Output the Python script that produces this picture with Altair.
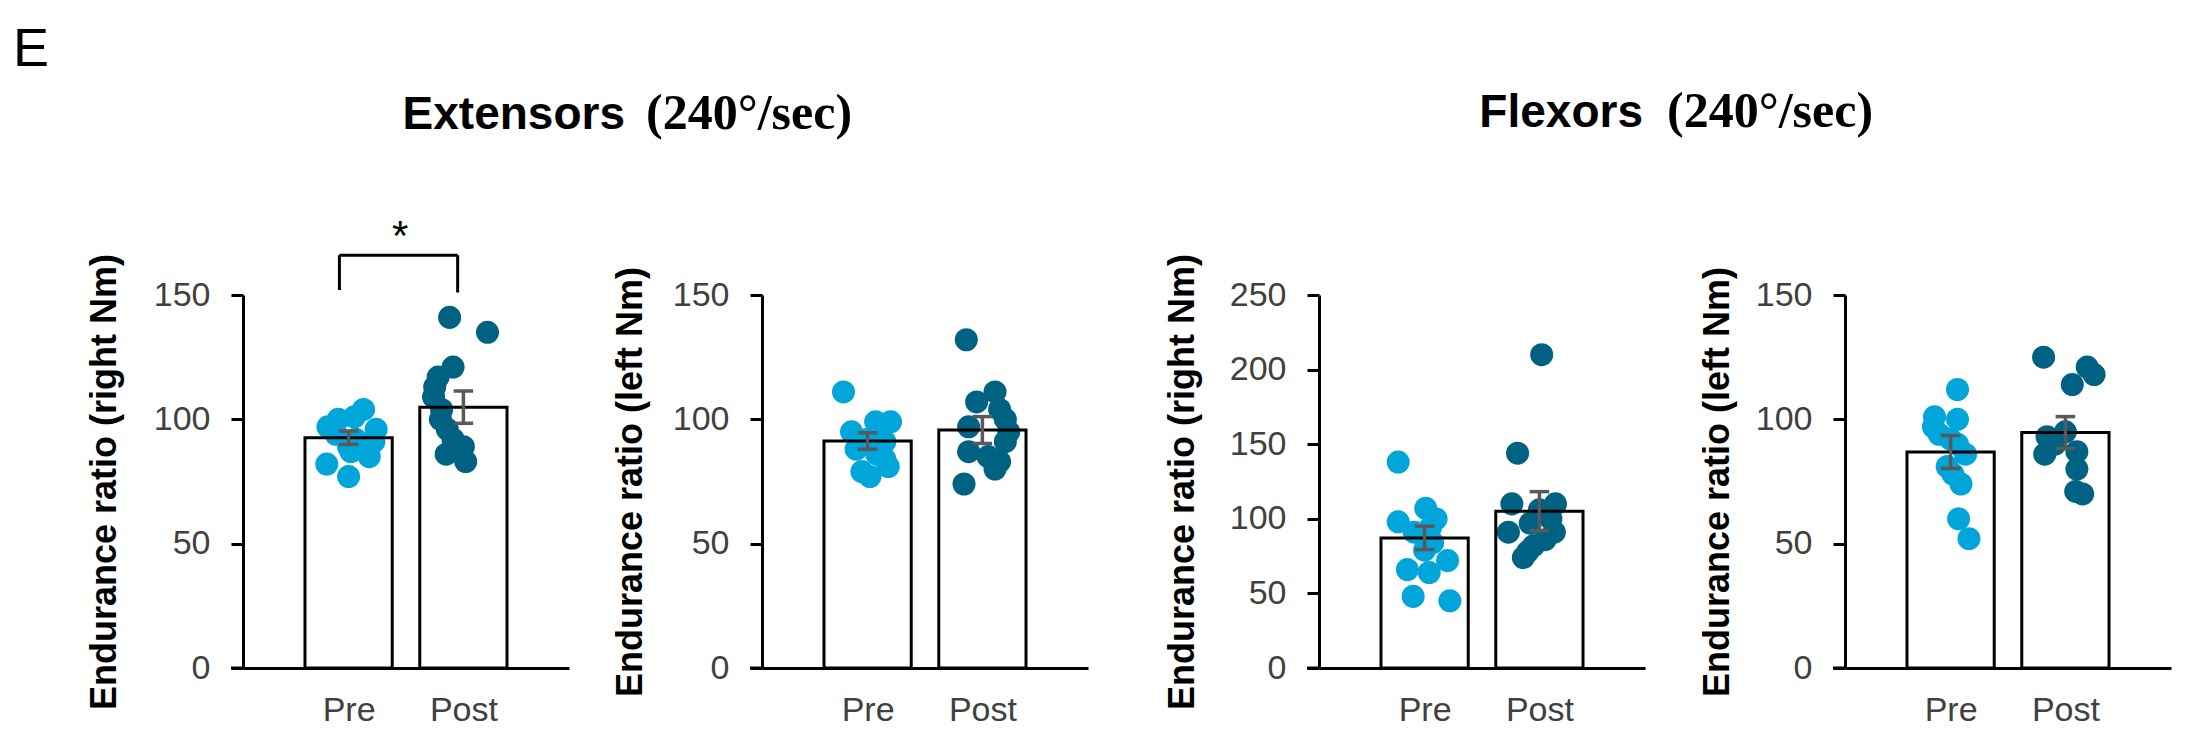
import altair as alt
import pandas as pd

GROUPS = ["Pre", "Post"]
POS = [1, 2]
PRE_COL = "#00A6DA"
POST_COL = "#006282"
ERR_COL = "#595959"
SANS = "Liberation Sans"
SERIF = "Liberation Serif"

# ---- Extensors, right ----
ext_r_pre = [104, 101, 100, 97, 96, 94, 92, 91, 89, 87, 85, 82, 77]
ext_r_pre_jit = [0.13, 0.05, -0.09, -0.18, 0.24, -0.11, 0.06, 0.22, 0.0, 0.02, 0.18, -0.19, 0.0]
ext_r_post = [141, 135, 121, 117, 113, 109, 104, 100, 96, 92, 89, 86, 83]
ext_r_post_jit = [-0.12, 0.21, -0.09, -0.22, -0.25, -0.26, -0.19, -0.2, -0.14, -0.09, 0.0, -0.15, 0.02]
ext_r_mean = [92.6, 104.9]
ext_r_sem = [2.7, 6.5]

# ---- Extensors, left ----
ext_l_pre = [111, 99, 99, 95, 93, 92, 91, 88, 86, 84, 81, 79, 77]
ext_l_pre_jit = [-0.21, 0.2, 0.07, -0.14, 0.1, 0.0, 0.15, -0.1, 0.08, 0.15, 0.18, -0.05, 0.02]
ext_l_post = [132, 111, 107, 104, 100, 97, 95, 91, 87, 85, 83, 80, 74]
ext_l_post_jit = [-0.14, 0.11, -0.05, 0.15, 0.2, -0.12, 0.23, 0.2, -0.12, 0.05, 0.15, 0.11, -0.16]
ext_l_mean = [91.3, 95.7]
ext_l_sem = [3.3, 5.4]

# ---- Flexors, right ----
flx_r_pre = [138, 107, 100, 98, 94, 91, 84, 79, 72, 66, 64, 48, 45]
flx_r_pre_jit = [-0.23, 0.01, 0.1, -0.23, 0.05, -0.09, 0.07, 0.0, 0.2, -0.15, 0.04, -0.1, 0.22]
flx_r_post = [210, 144, 110, 110, 106, 100, 97, 91, 91, 86, 82, 78, 74]
flx_r_post_jit = [0.02, -0.19, -0.24, 0.14, 0.0, 0.1, -0.08, -0.27, 0.13, 0.05, -0.05, -0.1, -0.14]
flx_r_mean = [87.2, 105.1]
flx_r_sem = [7.8, 13.1]

# ---- Flexors, left ----
flx_l_pre = [112, 101, 100, 97, 94, 92, 90, 86, 81, 78, 74, 60, 52]
flx_l_pre_jit = [0.06, -0.14, 0.06, -0.15, -0.1, 0.0, 0.06, 0.13, -0.03, 0.02, 0.09, 0.07, 0.16]
flx_l_post = [125, 121, 118, 114, 95, 93, 90, 87, 86, 80, 71, 70]
flx_l_post_jit = [-0.19, 0.19, 0.25, 0.06, 0.0, -0.16, -0.09, 0.1, -0.18, 0.1, 0.09, 0.15]
flx_l_mean = [86.9, 94.7]
flx_l_sem = [6.6, 6.4]

# significance bracket (panel 1)
brk_x = [0.92, 1.95]
brk_top = 166
brk_leg_ends = [152, 151]
star_pos = [1.45, 168]

W, H = 326, 373
XDOM = [0.08, 2.92]


def panel(pre, pre_j, post, post_j, means, sems, ymax, ytitle, title_x, extra=None):
    pts = pd.DataFrame({
        "group": ["Pre"] * len(pre) + ["Post"] * len(post),
        "pos": [1] * len(pre) + [2] * len(post),
        "jit": pre_j + post_j,
        "value": pre + post,
    })
    summ = pd.DataFrame({"group": GROUPS, "pos": POS, "mean": means, "sem": sems})
    xs = alt.Scale(domain=XDOM, nice=False, zero=False)
    ys = alt.Scale(domain=[0, ymax], nice=False)
    xa = alt.Axis(values=POS, labelExpr="datum.value == 1 ? 'Pre' : 'Post'", title=None)
    ya = alt.Axis(values=list(range(0, ymax + 1, 50)), title=ytitle, titleX=title_x)

    bs = alt.Chart(summ).transform_calculate(
        x1="datum.pos - 0.38", x2="datum.pos + 0.38",
        lo="datum.mean - datum.sem", hi="datum.mean + datum.sem",
        c1="datum.pos - 0.085", c2="datum.pos + 0.085", zero="0",
    )
    fill = bs.mark_bar(fill="white").encode(
        x=alt.X("x1:Q", scale=xs, axis=xa), x2="x2:Q",
        y=alt.Y("mean:Q", scale=ys, axis=ya), y2="zero:Q")
    dots = alt.Chart(pts).transform_calculate(xp="datum.pos + datum.jit").mark_circle(
        size=530, opacity=1).encode(
        x=alt.X("xp:Q", scale=xs, axis=xa),
        y=alt.Y("value:Q", scale=ys, axis=ya),
        color=alt.Color("group:N", scale=alt.Scale(domain=GROUPS, range=[PRE_COL, POST_COL]), legend=None))
    outline = bs.mark_bar(fill="white", fillOpacity=0, stroke="black", strokeWidth=3).encode(
        x=alt.X("x1:Q", scale=xs, axis=xa), x2="x2:Q",
        y=alt.Y("mean:Q", scale=ys, axis=ya), y2="zero:Q")
    ev = bs.mark_rule(color=ERR_COL, strokeWidth=3.5).encode(
        x=alt.X("pos:Q", scale=xs, axis=xa), y=alt.Y("lo:Q", scale=ys, axis=ya), y2="hi:Q")
    c_lo = bs.mark_rule(color=ERR_COL, strokeWidth=3.5).encode(
        x=alt.X("c1:Q", scale=xs, axis=xa), x2="c2:Q", y=alt.Y("lo:Q", scale=ys, axis=ya))
    c_hi = bs.mark_rule(color=ERR_COL, strokeWidth=3.5).encode(
        x=alt.X("c1:Q", scale=xs, axis=xa), x2="c2:Q", y=alt.Y("hi:Q", scale=ys, axis=ya))
    # short extension of the baseline under the y-axis ticks
    ext = alt.Chart(pd.DataFrame({"k": [0]})).mark_rule(color="black", strokeWidth=3).encode(
        x=alt.value(-12), x2=alt.value(0), y=alt.value(H))
    layers = [fill, dots, outline, ev, c_lo, c_hi, ext]
    if extra:
        layers += extra(xs, ys, xa, ya)
    return alt.layer(*layers).properties(width=W, height=H)


def bracket_layers(xs, ys, xa, ya):
    seg = pd.DataFrame({
        "x": [brk_x[0], brk_x[0], brk_x[1]],
        "x2": [brk_x[1], brk_x[0], brk_x[1]],
        "y": [brk_top, brk_leg_ends[0], brk_leg_ends[1]],
        "y2": [brk_top, brk_top, brk_top],
    })
    rule = alt.Chart(seg).mark_rule(color="black", strokeWidth=3).encode(
        x=alt.X("x:Q", scale=xs, axis=xa), x2="x2:Q",
        y=alt.Y("y:Q", scale=ys, axis=ya), y2="y2:Q")
    star = alt.Chart(pd.DataFrame({"x": [star_pos[0]], "y": [star_pos[1]], "t": ["*"]})).mark_text(
        fontSize=42, font=SANS, color="black", baseline="alphabetic").encode(
        x=alt.X("x:Q", scale=xs, axis=xa), y=alt.Y("y:Q", scale=ys, axis=ya), text="t:N")
    return [rule, star]


def title_layers(word, x_word, x_paren, y_base, with_letter=False):
    def f(xs, ys, xa, ya):
        out = []
        out.append(alt.Chart(pd.DataFrame({"t": [word]})).mark_text(
            font=SANS, fontSize=46, fontWeight="bold", align="right", baseline="alphabetic",
            color="black").encode(text="t:N", x=alt.value(x_word), y=alt.value(y_base)))
        out.append(alt.Chart(pd.DataFrame({"t": ["(240°/sec)"]})).mark_text(
            font=SERIF, fontSize=50, fontWeight="bold", align="left", baseline="alphabetic",
            color="black").encode(text="t:N", x=alt.value(x_paren), y=alt.value(y_base)))
        if with_letter:
            out.append(alt.Chart(pd.DataFrame({"t": ["E"]})).mark_text(
                font=SANS, fontSize=54, align="left", baseline="alphabetic",
                color="black").encode(text="t:N", x=alt.value(-230), y=alt.value(-229)))
        return out
    return f


def combo(*fs):
    def f(xs, ys, xa, ya):
        out = []
        for g in fs:
            out += g(xs, ys, xa, ya)
        return out
    return f


p1 = panel(ext_r_pre, ext_r_pre_jit, ext_r_post, ext_r_post_jit, ext_r_mean, ext_r_sem, 150,
           "Endurance ratio (right Nm)", -139,
           extra=combo(bracket_layers, title_layers("Extensors", 382, 403, -166, True)))
p2 = panel(ext_l_pre, ext_l_pre_jit, ext_l_post, ext_l_post_jit, ext_l_mean, ext_l_sem, 150,
           "Endurance ratio (left Nm)", -132)
p3 = panel(flx_r_pre, flx_r_pre_jit, flx_r_post, flx_r_post_jit, flx_r_mean, flx_r_sem, 250,
           "Endurance ratio (right Nm)", -137,
           extra=title_layers("Flexors", 324, 348, -168))
p4 = panel(flx_l_pre, flx_l_pre_jit, flx_l_post, flx_l_post_jit, flx_l_mean, flx_l_sem, 150,
           "Endurance ratio (left Nm)", -128)

pair1 = alt.hconcat(p1, p2, spacing=193, bounds="flush")
pair2 = alt.hconcat(p3, p4, spacing=200, bounds="flush")

chart = alt.hconcat(pair1, pair2, spacing=75).configure_view(
    stroke=None
).configure_axis(
    grid=False, domainColor="black", domainWidth=3, tickColor="black", tickWidth=3,
    labelFont=SANS, labelFontSize=34, labelColor="#404040",
    titleFont=SANS, titleFontSize=36, titleFontWeight="bold", titleColor="black",
).configure_axisX(
    ticks=False, labelPadding=25, labelAngle=0
).configure_axisY(
    tickSize=12, labelPadding=21, titleY=H / 2, titleAngle=270,
    titleAlign="center", titleBaseline="middle"
).properties(padding={"left": 5, "top": 15, "right": 5, "bottom": 5})

chart.save("out.html", embed_options={"renderer": "svg", "actions": False})
